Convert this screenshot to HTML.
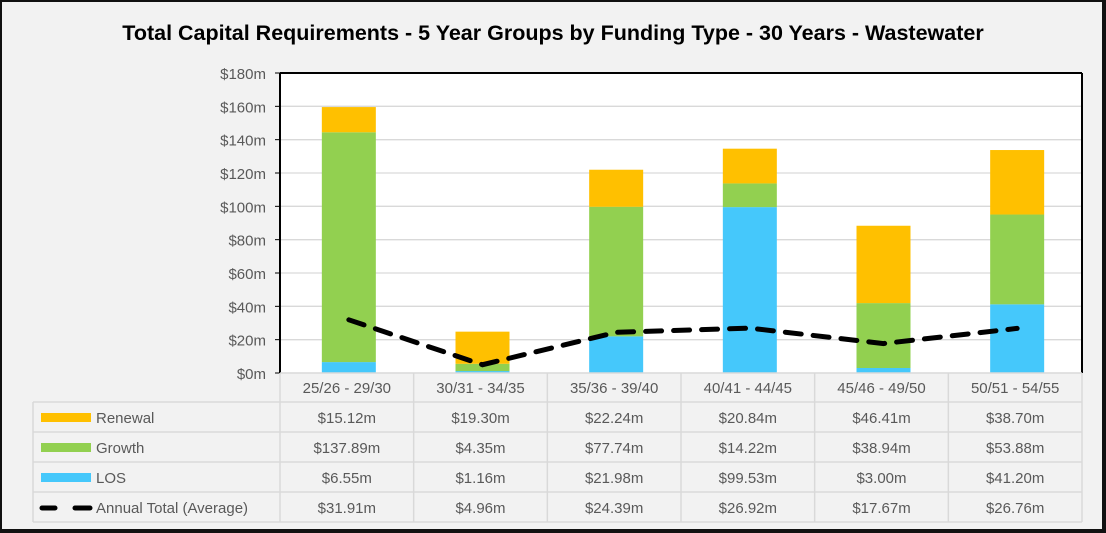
<!DOCTYPE html>
<html><head><meta charset="utf-8"><style>
body{margin:0;width:1106px;height:533px;overflow:hidden;background:#fff;font-family:"Liberation Sans",sans-serif}
#frame{position:absolute;left:0;top:0;width:1100px;height:527px;background:#f2f2f2;border-left:2px solid #111;border-top:2px solid #111;border-right:4px solid #111;border-bottom:4px solid #111;box-sizing:content-box}
</style></head><body>
<div id="frame"></div>
<svg id="c" width="1106" height="533" style="position:absolute;left:0;top:0"></svg>
<script>
const categories=["25/26 - 29/30","30/31 - 34/35","35/36 - 39/40","40/41 - 44/45","45/46 - 49/50","50/51 - 54/55"];
const renewal=[15.12,19.30,22.24,20.84,46.41,38.70];
const growth=[137.89,4.35,77.74,14.22,38.94,53.88];
const los=[6.55,1.16,21.98,99.53,3.00,41.20];
const annual=[31.91,4.96,24.39,26.92,17.67,26.76];
const yTicks=[0,20,40,60,80,100,120,140,160,180];
const NS="http://www.w3.org/2000/svg";
const svg=document.getElementById('c');
const L=280,R=1082,T=73,B=373,ymax=180;
const cw=(R-L)/categories.length;
const y=v=>B-v/ymax*(B-T);
const xc=i=>L+cw*(i+0.5);
function mk(tag,attrs,parent){const e=document.createElementNS(NS,tag);for(const k in attrs)e.setAttribute(k,attrs[k]);(parent||svg).appendChild(e);return e;}
function fmt(v){return '$'+v.toFixed(2)+'m';}
let t=mk('text',{x:553,y:40,'text-anchor':'middle','font-size':21.5,'font-weight':'bold',fill:'#000'});
t.textContent='Total Capital Requirements - 5 Year Groups by Funding Type - 30 Years - Wastewater';


let pa=mk('rect',{x:L,y:T,width:R-L,height:B-T,fill:'#fff'});


yTicks.forEach(v=>{
 if(v>0&&v<ymax){let g=mk('line',{x1:L,x2:R,y1:y(v),y2:y(v),stroke:'#d9d9d9','stroke-width':1.3});
 
 }
 mk('line',{x1:L-5,x2:L,y1:y(v),y2:y(v),stroke:'#000','stroke-width':1});
 let tl=mk('text',{x:266,y:y(v)+6,'text-anchor':'end','font-size':15,fill:'#595959'});
 tl.textContent='$'+v+'m';
 
 
});
mk('line',{x1:L,x2:R,y1:T,y2:T,stroke:'#000','stroke-width':2});
mk('line',{x1:R,x2:R,y1:T,y2:B,stroke:'#000','stroke-width':2});
mk('line',{x1:L,x2:L,y1:T,y2:B,stroke:'#000','stroke-width':2});
const bw=54;
categories.forEach((c,i)=>{
 let base=0;
 [[los,'#45c8fb','bar-los'],[growth,'#92d050','bar-growth'],[renewal,'#ffc000','bar-renewal']].forEach(([arr,col,n])=>{
  let r=mk('rect',{x:xc(i)-bw/2+2,y:y(base+arr[i]),width:bw,height:y(base)-y(base+arr[i]),fill:col});
  
  
  base+=arr[i];
 });
});
let pts=annual.map((v,i)=>xc(i)+2+','+y(v)).join(' ');
let pl=mk('polyline',{points:pts,fill:'none',stroke:'#000','stroke-width':5,'stroke-dasharray':'16 12','stroke-linecap':'round'});


const rows=[402,432,462,492,522];
const TL=33;
mk('line',{x1:L,x2:R,y1:B,y2:B,stroke:'#d9d9d9','stroke-width':1.5});
rows.forEach(ry=>mk('line',{x1:TL,x2:R,y1:ry,y2:ry,stroke:'#d9d9d9','stroke-width':1.5}));
mk('line',{x1:TL,x2:TL,y1:402,y2:522,stroke:'#d9d9d9','stroke-width':1.5});
for(let i=0;i<=categories.length;i++)mk('line',{x1:L+cw*i,x2:L+cw*i,y1:B,y2:522,stroke:'#d9d9d9','stroke-width':1.5});
categories.forEach((c,i)=>{
 let h=mk('text',{x:xc(i),y:393,'text-anchor':'middle','font-size':15,fill:'#595959'});
 h.textContent=c;
 
 
});
const series=[[renewal,'Renewal','#ffc000'],[growth,'Growth','#92d050'],[los,'LOS','#45c8fb'],[annual,'Annual Total (Average)',null]];
series.forEach(([arr,name,col],r)=>{
 const cy=rows[r]+21;
 if(col){let sw=mk('rect',{x:41,y:cy-10,width:50,height:9,fill:col});
  
  }
 else{mk('line',{x1:42,x2:55,y1:cy-5,y2:cy-5,stroke:'#000','stroke-width':5,'stroke-linecap':'round'});
  mk('line',{x1:75,x2:90,y1:cy-5,y2:cy-5,stroke:'#000','stroke-width':5,'stroke-linecap':'round'});}
 let lt=mk('text',{x:96,y:cy,'font-size':15,fill:'#595959'});
 lt.textContent=name;
 
 
 arr.forEach((v,i)=>{
  let tv=mk('text',{x:xc(i),y:cy,'text-anchor':'middle','font-size':15,fill:'#595959'});
  tv.textContent=fmt(v);
  
  
 });
});
</script>
</body></html>
